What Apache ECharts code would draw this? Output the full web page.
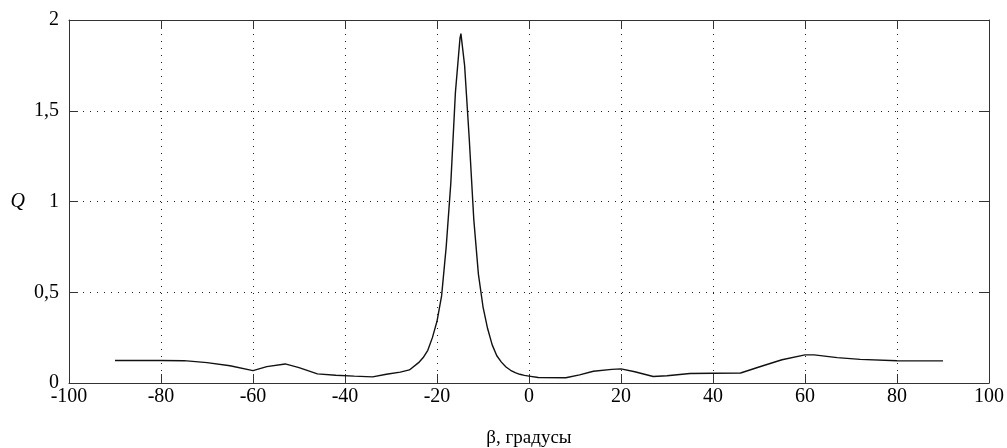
<!DOCTYPE html>
<html>
<head>
<meta charset="utf-8">
<script src="https://cdn.jsdelivr.net/npm/echarts@6/dist/echarts.min.js"></script>
<style>
  html, body { margin: 0; padding: 0; background: #fff; }
  #chart { width: 1007px; height: 448px; }
</style>
</head>
<body>
<div id="chart"></div>
<script>
// beta, degrees
const beta = [
  -90, -85, -80, -75, -70, -65, -60, -57, -53, -50, -46, -42, -38, -34, -31, -28, -26,
  -24, -23, -22, -21, -20, -19, -18, -17, -16, -15, -14.8, -14, -13, -12, -11, -10,
  -9, -8, -7, -6, -5, -4, -3, -2, -1, 0, 2, 8, 11, 14, 18, 20, 23, 27, 30, 35, 40,
  46, 50, 55, 60, 62, 67, 72, 80, 90
]
// Q values
const qValues = [
  0.124, 0.124, 0.124, 0.123, 0.112, 0.095, 0.068, 0.09, 0.105, 0.085, 0.05, 0.043, 0.038, 0.034, 0.048, 0.06, 0.072,
  0.112, 0.14, 0.18, 0.25, 0.34, 0.48, 0.75, 1.1, 1.6, 1.9, 1.925, 1.75, 1.35, 0.9, 0.6, 0.42,
  0.3, 0.21, 0.15, 0.115, 0.088, 0.07, 0.057, 0.048, 0.042, 0.038, 0.03, 0.029, 0.045, 0.065, 0.075, 0.078, 0.062, 0.036, 0.04, 0.052, 0.054,
  0.055, 0.088, 0.128, 0.155, 0.155, 0.14, 0.13, 0.123, 0.122
]
const xTicks = { min: -100, max: 100, step: 20 }
const yTicks = { min: 0, max: 2, step: 0.5 }

const font = 'Liberation Serif'
const frame = { show: true, onZero: false, lineStyle: { color: '#333', width: 1 } }
const tick = { show: true, inside: true, length: 9, lineStyle: { color: '#333' } }

const chart = echarts.init(document.getElementById('chart'))
chart.setOption({
  animation: false,
  grid: { left: 69, right: 18, top: 20, bottom: 65, outerBoundsMode: 'none', containLabel: false },
  xAxis: [{
    type: 'value',
    min: xTicks.min, max: xTicks.max, interval: xTicks.step,
    axisLine: frame,
    axisTick: tick,
    axisLabel: { color: '#000', fontFamily: font, fontSize: 20, margin: 4 },
    splitLine: { show: true, lineStyle: { color: '#222', type: [1, 6], width: 1 } },
    name: 'β, градусы',
    nameLocation: 'middle',
    nameGap: 46,
    nameTextStyle: { color: '#000', fontFamily: font, fontSize: 19 }
  }, {
    type: 'value', position: 'top',
    min: xTicks.min, max: xTicks.max, interval: xTicks.step,
    axisLine: frame, axisTick: tick,
    axisLabel: { show: false }, splitLine: { show: false }
  }],
  yAxis: [{
    type: 'value',
    min: yTicks.min, max: yTicks.max, interval: yTicks.step,
    axisLine: frame,
    axisTick: tick,
    axisLabel: {
      color: '#000', fontFamily: font, fontSize: 20, margin: 10,
      formatter: v => String(v).replace('.', ',')
    },
    splitLine: { show: true, lineStyle: { color: '#222', type: [1, 6], width: 1 } },
    name: 'Q',
    nameLocation: 'middle',
    nameRotate: 0,
    nameGap: 44,
    nameTextStyle: { color: '#000', fontFamily: font, fontSize: 20, fontStyle: 'italic' }
  }, {
    type: 'value', position: 'right',
    min: yTicks.min, max: yTicks.max, interval: yTicks.step,
    axisLine: frame, axisTick: tick,
    axisLabel: { show: false }, splitLine: { show: false }
  }],
  series: [{
    type: 'line',
    data: beta.map((b, i) => [b, qValues[i]]),
    showSymbol: false,
    smooth: false,
    lineStyle: { color: '#111', width: 1.4 }
  }]
})
</script>
</body>
</html>
